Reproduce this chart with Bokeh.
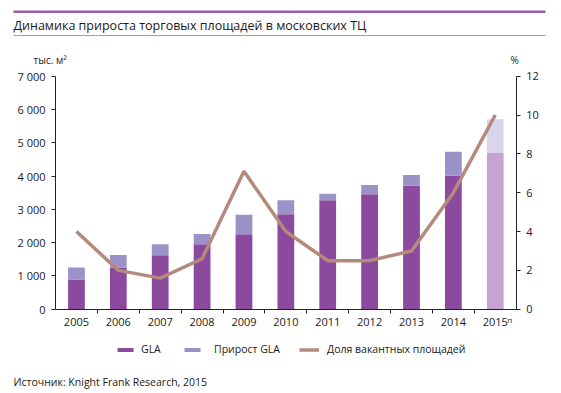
from bokeh.plotting import figure
from bokeh.models import (Range1d, LinearAxis, FixedTicker, Label, BoxAnnotation,
                          Legend, LegendItem, ColumnDataSource)
from bokeh.embed import file_html
from bokeh.resources import INLINE

# ---- data ----
years = ["2005", "2006", "2007", "2008", "2009", "2010", "2011", "2012", "2013", "2014", "2015"]
gla = [890, 1250, 1620, 1950, 2250, 2850, 3270, 3450, 3720, 4010, 4710]
gla_growth = [360, 380, 330, 310, 590, 420, 200, 280, 310, 720, 1000]
vacancy = [4.0, 2.0, 1.6, 2.6, 7.1, 4.0, 2.5, 2.5, 3.0, 6.0, 10.0]
left_ticks = [0, 1000, 2000, 3000, 4000, 5000, 6000, 7000]
left_tick_labels = ["0", "1 000", "2 000", "3 000", "4 000", "5 000", "6 000", "7 000"]
right_ticks = [0, 2, 4, 6, 8, 10, 12]
right_tick_labels = ["0", "2", "4", "6", "8", "10", "12"]
series_names = ["GLA", "Прирост GLA", "Доля вакантных площадей"]

FONT = "Open Sans"
TXT = "#1a1a1a"

# ---- layout (pixels) ----
W, H = 553, 391
AX_L, AX_R = 55.0, 515.7      # x pixel of left / right value axes
AX_T, AX_B = 75.7, 308.7      # y pixel of top / bottom of value axes

n = len(years)
Y_MAX, R_MAX = left_ticks[-1], right_ticks[-1]


def span(v0, v1, p0, p1, size):
    """data range so that value v0 lands at pixel p0 and v1 at p1 on a canvas of size px"""
    k = (v1 - v0) / (p1 - p0)
    return v0 - p0 * k, v0 + (size - p0) * k


xs, xe = span(0, n, AX_L, AX_R, W)
ys, ye = span(0, Y_MAX, H - AX_B, H - AX_T, H)
rs, re = span(0, R_MAX, H - AX_B, H - AX_T, H)

xc = [i + 0.5 for i in range(n)]
tops = [g + d for g, d in zip(gla, gla_growth)]
gla_colors = ["#8b4a9e"] * (n - 1) + ["#c6a3d3"]
growth_colors = ["#9b93c7"] * (n - 1) + ["#d9d5ee"]

src = ColumnDataSource(dict(x=xc, gla=gla, top=tops, vac=vacancy,
                            c1=gla_colors, c2=growth_colors))

p = figure(width=W, height=H, output_backend="svg", toolbar_location=None,
           x_range=Range1d(xs, xe), y_range=Range1d(ys, ye),
           min_border=0, x_axis_location=None, y_axis_location=None)
p.outline_line_color = None
p.xgrid.visible = False
p.ygrid.visible = False
p.background_fill_color = "white"
p.border_fill_color = "white"
p.extra_y_ranges = {"right": Range1d(rs, re)}

r_gla = p.vbar(x="x", bottom=0, top="gla", width=0.4, source=src,
               fill_color="c1", line_color=None)
r_gr = p.vbar(x="x", bottom="gla", top="top", width=0.4, source=src,
              fill_color="c2", line_color=None)
r_line = p.line(x="x", y="vac", source=src, y_range_name="right",
                line_color="#b48a7c", line_width=3.5)


def style_axis(ax):
    ax.axis_line_color = "#222222"
    ax.axis_line_width = 1
    ax.major_tick_line_color = "#222222"
    ax.major_tick_in = 0
    ax.major_tick_out = 4
    ax.minor_tick_line_color = None
    ax.major_label_text_font = FONT
    ax.major_label_text_font_size = "11px"
    ax.major_label_text_color = TXT


la = LinearAxis(ticker=FixedTicker(ticks=left_ticks, minor_ticks=[]),
                major_label_overrides=dict(zip(left_ticks, left_tick_labels)),
                fixed_location=0, bounds=(0, Y_MAX))
style_axis(la)
la.major_label_standoff = 6
p.add_layout(la, "left")

ra = LinearAxis(y_range_name="right", ticker=FixedTicker(ticks=right_ticks, minor_ticks=[]),
                major_label_overrides=dict(zip(right_ticks, right_tick_labels)),
                fixed_location=n, bounds=(0, R_MAX))
style_axis(ra)
ra.major_label_standoff = 6
p.add_layout(ra, "right")

xa = LinearAxis(ticker=FixedTicker(ticks=xc, minor_ticks=list(range(1, n))),
                major_label_overrides=dict(zip(xc, years)),
                fixed_location=0, bounds=(0, n))
style_axis(xa)
xa.major_tick_line_color = None
xa.minor_tick_line_color = "#222222"
xa.minor_tick_in = 0
xa.minor_tick_out = 4
xa.major_label_standoff = 5
p.add_layout(xa, "below")

# superscript "п" on 2015 (forecast)
p.add_layout(Label(x=xc[-1], y=H - 318.5, x_units="data", y_units="screen", x_offset=12,
                   text="п", text_font=FONT, text_font_size="8px", text_color=TXT,
                   text_baseline="middle", text_align="left"))

# header decoration lines
p.add_layout(BoxAnnotation(left=13, right=545, top=H - 10, bottom=H - 12.5,
                           left_units="screen", right_units="screen",
                           top_units="screen", bottom_units="screen",
                           fill_color="#9d5cb3", fill_alpha=1, line_color=None))
p.add_layout(BoxAnnotation(left=13, right=545, top=H - 34.5, bottom=H - 35.5,
                           left_units="screen", right_units="screen",
                           top_units="screen", bottom_units="screen",
                           fill_color="#b68fc9", fill_alpha=1, line_color=None))


def lab(x, y, text, size, align="left"):
    p.add_layout(Label(x=x, y=H - y, x_units="screen", y_units="screen", text=text,
                       text_font=FONT, text_font_size=size, text_color=TXT,
                       text_baseline="middle", text_align=align))


lab(13, 24.5, "Динамика прироста торговых площадей в московских ТЦ", "12.5px")
lab(33, 59, "тыс. м²", "10px")
lab(510, 59, "%", "10px")
lab(13, 381, "Источник: Knight Frank Research, 2015", "10.5px")

# legend: one entry per series, positioned like the reference
entries = [(r_gla, 0, 115, 6), (r_gr, 0, 182, 12), (r_line, None, 299, 8)]
for name, (rend, idx, lx, standoff) in zip(series_names, entries):
    item = LegendItem(label=name, renderers=[rend]) if idx is None else \
        LegendItem(label=name, renderers=[rend], index=idx)
    lg = Legend(items=[item], orientation="horizontal", location=(lx, H - 356),
                label_text_font=FONT, label_text_font_size="10.5px", label_text_color=TXT,
                glyph_width=20, glyph_height=5, label_height=14, label_standoff=standoff,
                spacing=0, padding=0, margin=0,
                border_line_color=None, background_fill_alpha=0)
    p.add_layout(lg, "center")

open("out.html", "w").write(file_html(p, INLINE))
